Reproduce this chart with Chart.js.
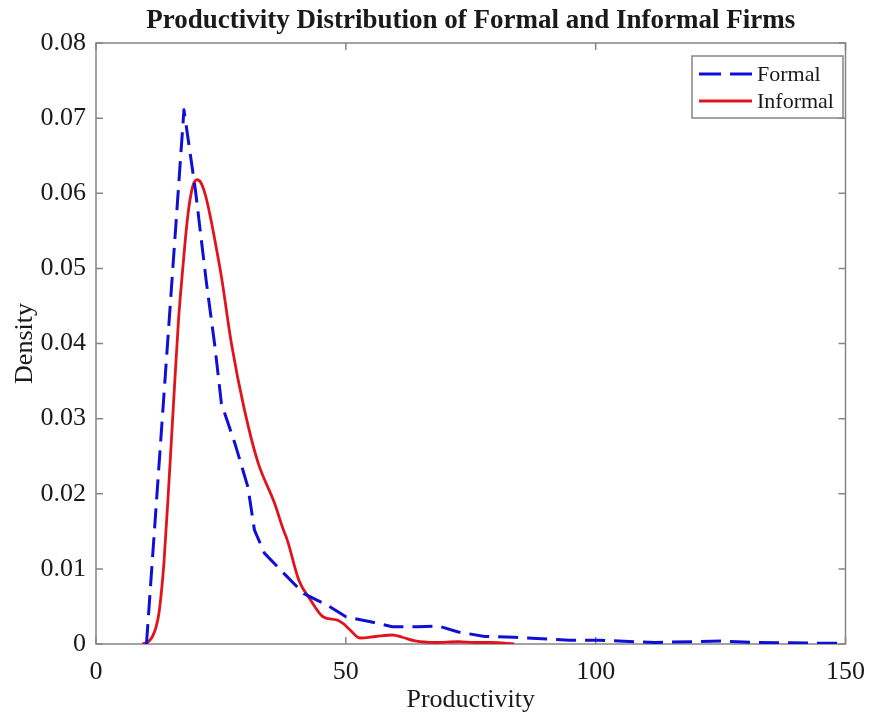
<!DOCTYPE html>
<html>
<head>
<meta charset="utf-8">
<title>Productivity Distribution of Formal and Informal Firms</title>
<script src="https://cdn.jsdelivr.net/npm/chart.js@4.4.1/dist/chart.umd.min.js"></script>
<style>
  html, body { margin: 0; padding: 0; background: #fff; }
  #wrap { width: 878px; height: 714px; }
</style>
</head>
<body>
<div id="wrap"><canvas id="myChart" width="878" height="714"></canvas></div>
<script>
// values
const formalX = [10.1, 17.6, 19.9, 22.1, 23.8, 25.1, 27.8, 30.4, 31.7, 33.7, 37.6, 41.6, 46.2, 50.1, 54.7, 59.3, 64.5, 68.5, 72.5, 77.8, 83.7, 94.9, 100.8, 111.9, 125.1, 131.7, 146.2, 148.4];
const formalDensity = [0, 0.0711, 0.0604, 0.0481, 0.0396, 0.0320, 0.0267, 0.0209, 0.0152, 0.0121, 0.0094, 0.0067, 0.0052, 0.0036, 0.0030, 0.0023, 0.0023, 0.0024, 0.0016, 0.0010, 0.0009, 0.0005, 0.0005, 0.0002, 0.0004, 0.0002, 0.0001, 0.0001];

const informalX = [9.3, 10.5, 11.3, 12.0, 12.6, 13.1, 13.6, 14.6, 15.6, 16.5, 17.3, 17.9, 18.6, 19.4, 20.2, 21.0, 22.0, 23.0, 24.0, 25.1, 27.1, 29.7, 32.4, 35.7, 37.5, 38.3, 40.6, 42.9, 45.5, 48.2, 49.5, 50.8, 52.8, 56.0, 59.3, 61.3, 63.9, 67.9, 72.5, 75.8, 79.1, 83.7];
const informalDensity = [0, 0.0003, 0.0010, 0.0022, 0.0041, 0.0070, 0.0108, 0.0215, 0.0330, 0.0430, 0.0495, 0.0540, 0.0582, 0.0610, 0.0618, 0.0614, 0.0595, 0.0565, 0.0530, 0.0489, 0.0400, 0.0312, 0.0242, 0.0188, 0.0152, 0.0138, 0.0085, 0.0059, 0.0036, 0.0032, 0.0027, 0.0019, 0.0008, 0.0010, 0.0012, 0.0009, 0.0004, 0.0002, 0.0003, 0.0002, 0.0002, 0];

const seriesNames = ['Formal', 'Informal'];
const chartTitle = 'Productivity Distribution of Formal and Informal Firms';
const xLabel = 'Productivity';
const yLabel = 'Density';

const serif = '"Liberation Serif", "Times New Roman", serif';
const axisGray = '#858585';
const textColor = '#1a1a1a';

function toPoints(xs, ys) {
  return xs.map((x, i) => ({ x, y: ys[i] }));
}

// box around plot, ticks pointing inward on all four sides (matlab look)
const boxPlugin = {
  id: 'box',
  beforeDatasetsDraw(chart) {
    const { ctx, chartArea: a, scales } = chart;
    const len = 7;
    ctx.save();
    ctx.strokeStyle = axisGray;
    ctx.lineWidth = 1.5;
    ctx.strokeRect(a.left, a.top, a.right - a.left, a.bottom - a.top);
    ctx.beginPath();
    scales.x.ticks.forEach(t => {
      const px = scales.x.getPixelForValue(t.value);
      ctx.moveTo(px, a.bottom); ctx.lineTo(px, a.bottom - len);
      ctx.moveTo(px, a.top); ctx.lineTo(px, a.top + len);
    });
    scales.y.ticks.forEach(t => {
      const py = scales.y.getPixelForValue(t.value);
      ctx.moveTo(a.left, py); ctx.lineTo(a.left + len, py);
      ctx.moveTo(a.right, py); ctx.lineTo(a.right - len, py);
    });
    ctx.stroke();
    ctx.restore();
  },
  afterDraw(chart) {
    const { ctx, chartArea: a } = chart;
    ctx.save();
    // title centred over the plot
    ctx.fillStyle = textColor;
    ctx.font = 'bold 27px ' + serif;
    ctx.textAlign = 'center';
    ctx.textBaseline = 'middle';
    ctx.fillText(chartTitle, (a.left + a.right) / 2, 21);

    // legend box, top right
    const bx = 692, by = 56, bw = 151, bh = 62;
    ctx.fillStyle = '#fff';
    ctx.fillRect(bx, by, bw, bh);
    ctx.strokeStyle = axisGray;
    ctx.lineWidth = 1.5;
    ctx.strokeRect(bx, by, bw, bh);
    ctx.font = '22px ' + serif;
    ctx.textAlign = 'left';
    chart.data.datasets.forEach((ds, i) => {
      const y = by + 18 + i * 27;
      ctx.strokeStyle = ds.borderColor;
      ctx.lineWidth = ds.borderWidth;
      ctx.setLineDash(ds.borderDash ? [22, 9] : []);
      ctx.beginPath();
      ctx.moveTo(bx + 7, y);
      ctx.lineTo(bx + 60, y);
      ctx.stroke();
      ctx.setLineDash([]);
      ctx.fillStyle = textColor;
      ctx.fillText(ds.label, bx + 65, y + 1);
    });
    ctx.restore();
  }
};

const ctx = document.getElementById('myChart').getContext('2d');

const chart = new Chart(ctx, {
  type: 'line',
  data: {
    datasets: [{
      label: seriesNames[0],
      data: toPoints(formalX, formalDensity),
      borderColor: 'rgb(15, 15, 215)',
      borderWidth: 3,
      borderDash: [20, 9],
      borderJoinStyle: 'round',
      pointRadius: 0,
      tension: 0,
      fill: false
    }, {
      label: seriesNames[1],
      data: toPoints(informalX, informalDensity),
      borderColor: 'rgb(225, 20, 30)',
      borderWidth: 2.8,
      pointRadius: 0,
      cubicInterpolationMode: 'monotone',
      fill: false
    }]
  },
  options: {
    responsive: false,
    animation: false,
    devicePixelRatio: 1,
    layout: { padding: { top: 43, right: 22, left: 0, bottom: 0 } },
    plugins: {
      legend: { display: false },
      title: { display: false },
      tooltip: { enabled: false }
    },
    scales: {
      x: {
        type: 'linear',
        min: 0,
        max: 150,
        grid: { display: false, drawTicks: false },
        border: { display: false },
        ticks: {
          stepSize: 50,
          padding: 13,
          color: textColor,
          font: { family: serif, size: 26 },
          maxRotation: 0
        },
        title: {
          display: true,
          text: xLabel,
          color: textColor,
          font: { family: serif, size: 26, lineHeight: 1 },
          padding: { top: 0, bottom: 1 }
        },
        afterFit: s => { s.height = 70; }
      },
      y: {
        type: 'linear',
        min: 0,
        max: 0.08,
        grid: { display: false, drawTicks: false },
        border: { display: false },
        ticks: {
          stepSize: 0.01,
          padding: 10,
          color: textColor,
          font: { family: serif, size: 26 },
          callback: v => (v === 0 ? '0' : v.toFixed(2))
        },
        title: {
          display: true,
          text: yLabel,
          color: textColor,
          font: { family: serif, size: 26 },
          padding: { top: 10, bottom: 0 }
        },
        afterFit: s => { s.width = 96; }
      }
    }
  },
  plugins: [boxPlugin]
});
</script>
</body>
</html>
